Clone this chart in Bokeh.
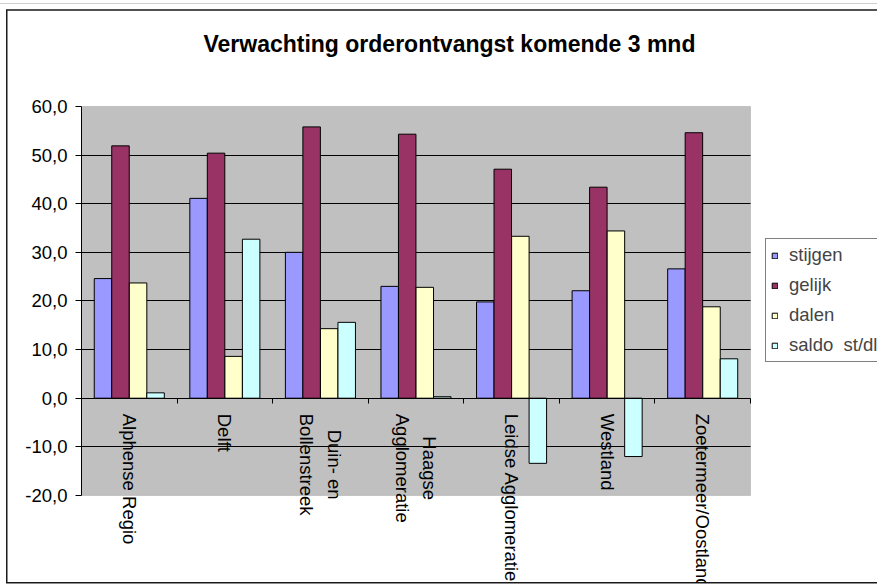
import numpy as np
from bokeh.plotting import figure
from bokeh.models import (Range1d, FixedTicker, LinearAxis, CustomJSTickFormatter,
                          BoxAnnotation, ColumnDataSource, Legend, LegendItem, Label)
from bokeh.transform import dodge
from bokeh.core.properties import value
from bokeh.embed import file_html
from bokeh.resources import INLINE

# ---------------- data ----------------
title_text = "Verwachting orderontvangst komende 3 mnd"
categories = ["Alphense Regio", "Delft", "Duin- en\nBollenstreek", "Haagse\nAgglomeratie",
              "Leidse Agglomeratie", "Westland", "Zoetermeer/Oostland"]
series_names = ["stijgen", "gelijk", "dalen", "saldo  st/dl"]
stijgen = [24.6, 41.1, 30.0, 23.0, 19.8, 22.1, 26.6]
gelijk = [51.9, 50.4, 55.8, 54.3, 47.1, 43.4, 54.6]
dalen = [23.7, 8.6, 14.3, 22.8, 33.3, 34.4, 18.8]
saldo = [1.1, 32.7, 15.6, 0.3, -13.4, -12.0, 8.1]
y_ticks = [-20, -10, 0, 10, 20, 30, 40, 50, 60]
colors = ["#9999FF", "#993366", "#FFFFCC", "#CCFFFF"]

FONT = "Liberation Sans"
n = len(categories)
xc = np.arange(n) + 0.5

# frame spans the canvas right of the value axis; plot area is x 0..7, y -20..60
p = figure(width=877, height=586, x_range=Range1d(0, 8.329), y_range=Range1d(-37.91, 81.80),
           output_backend="svg", toolbar_location=None, x_axis_location=None,
           min_border_left=81, min_border_right=0, min_border_top=0, min_border_bottom=4)
p.title_location = None
p.outline_line_color = None
p.background_fill_alpha = 0.0
p.border_fill_alpha = 0.0
# chart frame lines drawn with inset shadows on the host element
p.styles = {"box-shadow": ", ".join([
    "inset 0 3px 0 0 #ffffff",
    "inset 0 4px 0 0 #cfcfcf",
    "inset 0 9.3px 0 0 #ffffff",
    "inset 6px 0 0 0 #ffffff",
    "inset 0 -2.5px 0 0 #ffffff",
    "inset 0 10.8px 0 0 #1a1a1a",
    "inset 7.5px 0 0 0 #1a1a1a",
    "inset 0 -4px 0 0 #1a1a1a",
])}
for g in p.grid:
    if g.dimension == 0:
        g.visible = False

# gray plot area
p.add_layout(BoxAnnotation(left=0, right=n, bottom=y_ticks[0], top=y_ticks[-1],
                           fill_color="#C0C0C0", fill_alpha=1.0,
                           line_color="#808080", line_width=1, level="image"))

# grid
p.ygrid.ticker = FixedTicker(ticks=[t for t in y_ticks if t not in (y_ticks[0], 0, y_ticks[-1])])
p.ygrid.bounds = (y_ticks[0], y_ticks[-1])
p.ygrid.cross_bounds = (0, n)
p.ygrid.grid_line_color = "black"
p.ygrid.grid_line_width = 1

# y axis
ya = p.yaxis[0]
ya.ticker = FixedTicker(ticks=y_ticks)
ya.bounds = (y_ticks[0], y_ticks[-1])
ya.formatter = CustomJSTickFormatter(code="return tick.toFixed(1).replace('.', ',');")
ya.major_tick_out = 6
ya.major_tick_in = 0
ya.minor_tick_out = 0
ya.minor_tick_in = 0
ya.major_label_standoff = 8
ya.major_label_text_font = FONT
ya.major_label_text_font_size = "18.5px"
ya.major_label_text_color = "black"
ya.axis_line_color = "black"
ya.major_tick_line_color = "black"

# x axis at zero with ticks between categories
xa = LinearAxis(ticker=FixedTicker(ticks=list(range(n + 1))), fixed_location=0,
                bounds=(0, n),
                major_tick_in=5, major_tick_out=0, minor_tick_in=0, minor_tick_out=0,
                major_label_text_font_size="0px", major_label_text_color=None,
                axis_line_color="black", major_tick_line_color="black")
p.add_layout(xa, "above")

# bars
src = ColumnDataSource(dict(x=xc, stijgen=stijgen, gelijk=gelijk, dalen=dalen, saldo=saldo))
offsets = [-0.275, -0.092, 0.092, 0.275]
cols = ["stijgen", "gelijk", "dalen", "saldo"]
items = []
for col, name, off, c in zip(cols, series_names, offsets, colors):
    r = p.vbar(x=dodge("x", off), top=col, bottom=0, width=0.183, source=src,
               fill_color=c, line_color="black", line_width=1)
    items.append(LegendItem(label=name, renderers=[r]))

# category labels (rotated, below zero line)
lab_src = ColumnDataSource(dict(x=xc, y=[-3.2] * n, text=categories))
p.text(x="x", y="y", text="text", source=lab_src, angle=-np.pi / 2,
       anchor="center_left", text_align="center",
       text_font=value(FONT), text_font_size="18.5px", text_line_height=1.3,
       text_color="black")

# title
p.add_layout(Label(x=3.85, y=72.75, text=title_text, text_align="center",
                   text_baseline="middle", text_font=FONT, text_font_size="23px",
                   text_font_style="bold", text_color="black"))

# legend
lg = Legend(items=items, location=(684, 220), orientation="vertical")
lg.label_text_font = FONT
lg.label_text_font_size = "18.5px"
lg.glyph_width = 7
lg.glyph_height = 7
lg.label_standoff = 11
lg.padding = 5
lg.spacing = 8
lg.margin = 0
lg.label_height = 21
lg.border_line_color = "black"
lg.border_line_width = 1
lg.background_fill_color = "white"
lg.background_fill_alpha = 1.0
p.add_layout(lg)

open("out.html", "w").write(file_html(p, INLINE))
